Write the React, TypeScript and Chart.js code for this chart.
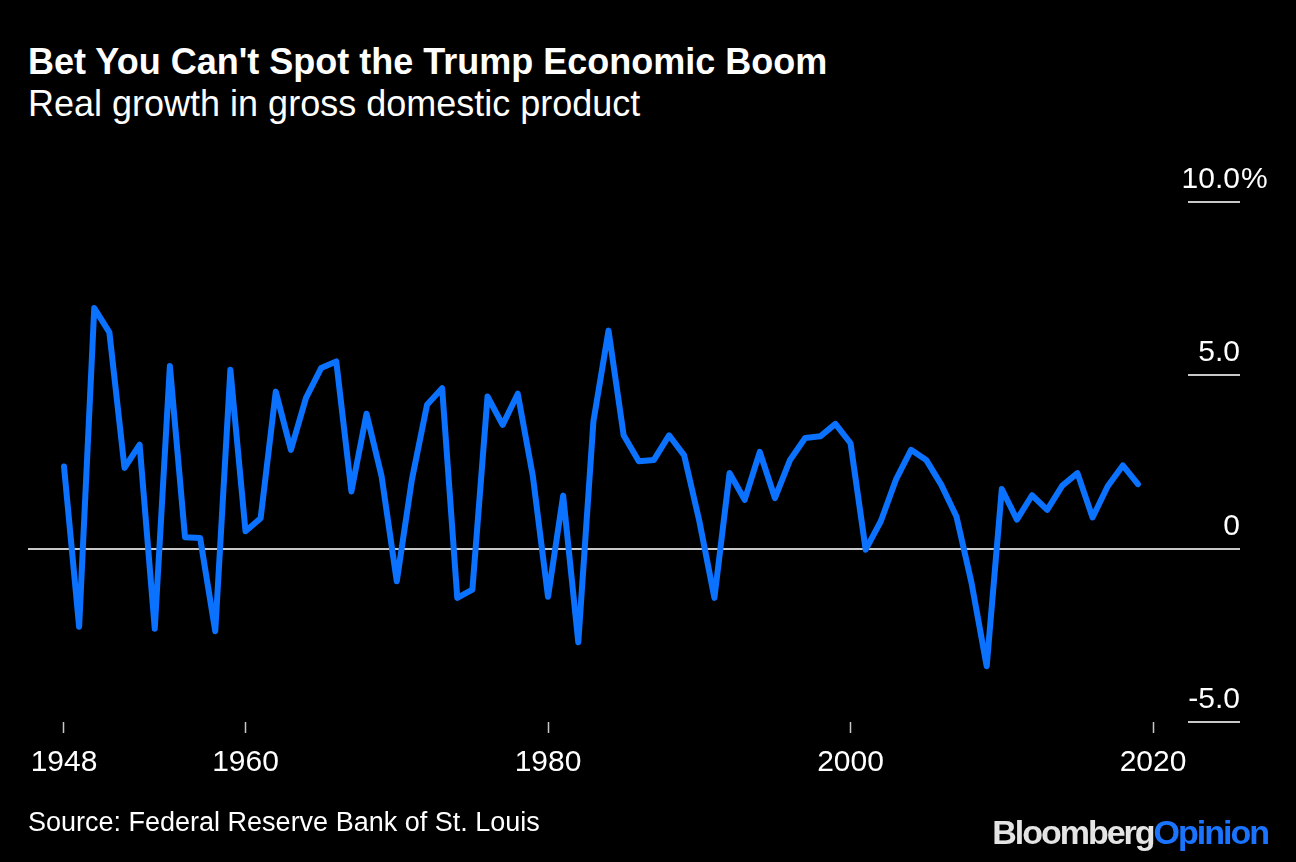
import React, { useEffect, useRef } from "react";
import { Chart, registerables } from "chart.js";

Chart.register(...registerables);

// ---------- Data ----------
const YEARS = [
  1948, 1949, 1950, 1951, 1952, 1953, 1954, 1955, 1956, 1957, 1958, 1959,
  1960, 1961, 1962, 1963, 1964, 1965, 1966, 1967, 1968, 1969,
  1970, 1971, 1972, 1973, 1974, 1975, 1976, 1977, 1978, 1979,
  1980, 1981, 1982, 1983, 1984, 1985, 1986, 1987, 1988, 1989,
  1990, 1991, 1992, 1993, 1994, 1995, 1996, 1997, 1998, 1999,
  2000, 2001, 2002, 2003, 2004, 2005, 2006, 2007, 2008, 2009,
  2010, 2011, 2012, 2013, 2014, 2015, 2016, 2017, 2018, 2019,
];

const GDP_GROWTH = [
  2.37, -2.25, 6.94, 6.24, 2.33, 3.0, -2.31, 5.27, 0.33, 0.31, -2.38, 5.16,
  0.5, 0.88, 4.53, 2.85, 4.35, 5.21, 5.4, 1.65, 3.89, 2.08,
  -0.94, 1.99, 4.15, 4.63, -1.42, -1.18, 4.39, 3.57, 4.47, 2.08,
  -1.39, 1.53, -2.7, 3.67, 6.29, 3.27, 2.52, 2.56, 3.27, 2.69,
  0.8, -1.42, 2.18, 1.41, 2.79, 1.46, 2.56, 3.19, 3.24, 3.6,
  3.04, -0.03, 0.79, 1.99, 2.85, 2.56, 1.84, 0.93, -0.99, -3.39,
  1.72, 0.84, 1.54, 1.12, 1.82, 2.18, 0.9, 1.8, 2.4, 1.86,
];

const X_TICKS = [1948, 1960, 1980, 2000, 2020];
const Y_TICKS = [-5, 0, 5, 10];
const Y_TICK_LABELS = ["-5.0", "0", "5.0", "10.0"];
const Y_UNIT = "%";

const TITLE = "Bet You Can't Spot the Trump Economic Boom";
const SUBTITLE = "Real growth in gross domestic product";
const SOURCE = "Source: Federal Reserve Bank of St. Louis";

const FONT = '"Liberation Sans", Arial, Helvetica, sans-serif';
const LINE_COLOR = "#0a72ff";
const AXIS_COLOR = "#c8c8c8";

export default function App() {
  const canvasRef = useRef<HTMLCanvasElement>(null);

  useEffect(() => {
    document.body.style.margin = "0";
    document.body.style.background = "#000";
    const canvas = canvasRef.current;
    if (!canvas) return;

    const yLabelPlugin = {
      id: "yLabels",
      afterDraw(chart: any) {
        const ctx = chart.ctx;
        const ys = chart.scales.y;
        const xRight = ys.right;
        ctx.save();
        ctx.font = `30px ${FONT}`;
        ctx.fillStyle = "#ffffff";
        ctx.textBaseline = "alphabetic";
        Y_TICKS.forEach((v, i) => {
          const py = ys.getPixelForValue(v);
          ctx.textAlign = "right";
          ctx.fillText(Y_TICK_LABELS[i], xRight, py - 14);
          if (i === Y_TICKS.length - 1) {
            ctx.textAlign = "left";
            ctx.fillText(Y_UNIT, xRight + 1, py - 14);
          }
        });
        ctx.restore();
      },
    };

    const chart = new Chart(canvas, {
      type: "line",
      data: {
        datasets: [
          {
            data: YEARS.map((yr, i) => ({ x: yr, y: GDP_GROWTH[i] })),
            borderColor: LINE_COLOR,
            borderWidth: 6,
            borderJoinStyle: "round",
            borderCapStyle: "round",
            pointRadius: 0,
            tension: 0,
            fill: false,
          },
        ],
      },
      options: {
        animation: false,
        responsive: false,
        maintainAspectRatio: false,
        layout: { padding: { left: 28, right: 56, top: 202, bottom: 0 } },
        plugins: {
          legend: { display: false },
          tooltip: { enabled: false },
          title: { display: false },
        },
        scales: {
          x: {
            type: "linear",
            min: 1945.62,
            max: 2022.31,
            afterFit: (s: any) => {
              s.height = 140;
            },
            afterBuildTicks: (s: any) => {
              s.ticks = X_TICKS.map((v) => ({ value: v }));
            },
            grid: {
              drawOnChartArea: false,
              drawTicks: true,
              tickLength: 11,
              tickColor: AXIS_COLOR,
              tickWidth: 1.5,
            },
            border: { display: false },
            ticks: {
              color: "#ffffff",
              font: { family: FONT, size: 30 },
              padding: 12,
              maxRotation: 0,
              autoSkip: false,
              callback: (v: any) => String(v),
            },
          },
          y: {
            position: "right",
            min: -5,
            max: 10,
            afterFit: (s: any) => {
              s.width = 52;
            },
            afterBuildTicks: (s: any) => {
              s.ticks = Y_TICKS.map((v) => ({ value: v }));
            },
            grid: {
              color: (c: any) =>
                c.tick && c.tick.value === 0 ? AXIS_COLOR : "rgba(0,0,0,0)",
              lineWidth: 2,
              drawTicks: true,
              tickLength: 52,
              tickColor: AXIS_COLOR,
              tickWidth: 2,
            },
            border: { display: false },
            ticks: { display: false },
          },
        },
      },
      plugins: [yLabelPlugin],
    } as any);

    return () => chart.destroy();
  }, []);

  return (
    <div
      style={{
        position: "fixed",
        left: 0,
        top: 0,
        width: 1296,
        height: 862,
        background: "#000",
        overflow: "hidden",
        fontFamily: FONT,
        color: "#fff",
      }}
    >
      <div
        style={{
          position: "absolute",
          left: 28,
          top: 44,
          fontSize: 36,
          lineHeight: "36px",
          fontWeight: 700,
          whiteSpace: "nowrap",
        }}
      >
        {TITLE}
      </div>
      <div
        style={{
          position: "absolute",
          left: 28,
          top: 86,
          fontSize: 36,
          lineHeight: "36px",
          whiteSpace: "nowrap",
        }}
      >
        {SUBTITLE}
      </div>
      <canvas
        ref={canvasRef}
        width={1296}
        height={862}
        style={{ position: "absolute", left: 0, top: 0, width: 1296, height: 862 }}
      />
      <div
        style={{
          position: "absolute",
          left: 28,
          top: 809,
          fontSize: 27,
          lineHeight: "27px",
          whiteSpace: "nowrap",
        }}
      >
        {SOURCE}
      </div>
      <div
        style={{
          position: "absolute",
          right: 28,
          top: 815,
          fontSize: 34,
          lineHeight: "34px",
          fontWeight: 700,
          letterSpacing: -2,
          whiteSpace: "nowrap",
        }}
      >
        <span style={{ color: "#e4e4e4" }}>Bloomberg</span>
        <span style={{ color: "#1a74ff" }}>Opinion</span>
      </div>
    </div>
  );
}
